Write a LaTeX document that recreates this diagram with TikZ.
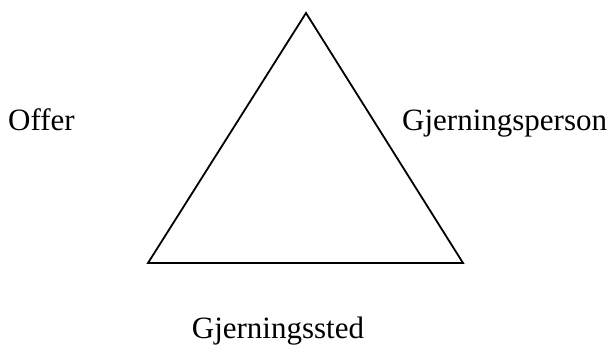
\documentclass[tikz,border=0pt]{standalone}
\usepackage{fontspec}
\setmainfont{Liberation Serif}
\begin{document}
\begin{tikzpicture}[x=1pt,y=-1pt,
  lbl/.style={inner sep=0pt,font=\fontsize{31}{36}\selectfont},
  tri/.style={line width=1.8pt,line join=miter}]
\useasboundingbox (0,0) rectangle (609,346);
\coordinate (t) at (306,13);
\coordinate (bl) at (148,263);
\coordinate (br) at (463,263);
\draw[tri] (t) -- (bl) -- (br) -- cycle;
\node[lbl,anchor=base west] (offer) at (8,130) {Offer};
\node[lbl,anchor=base west] (gp) at (402,130) {Gjerningsperson};
\node[lbl,anchor=base] (gs) at (278,338) {Gjerningssted};
\end{tikzpicture}
\end{document}
